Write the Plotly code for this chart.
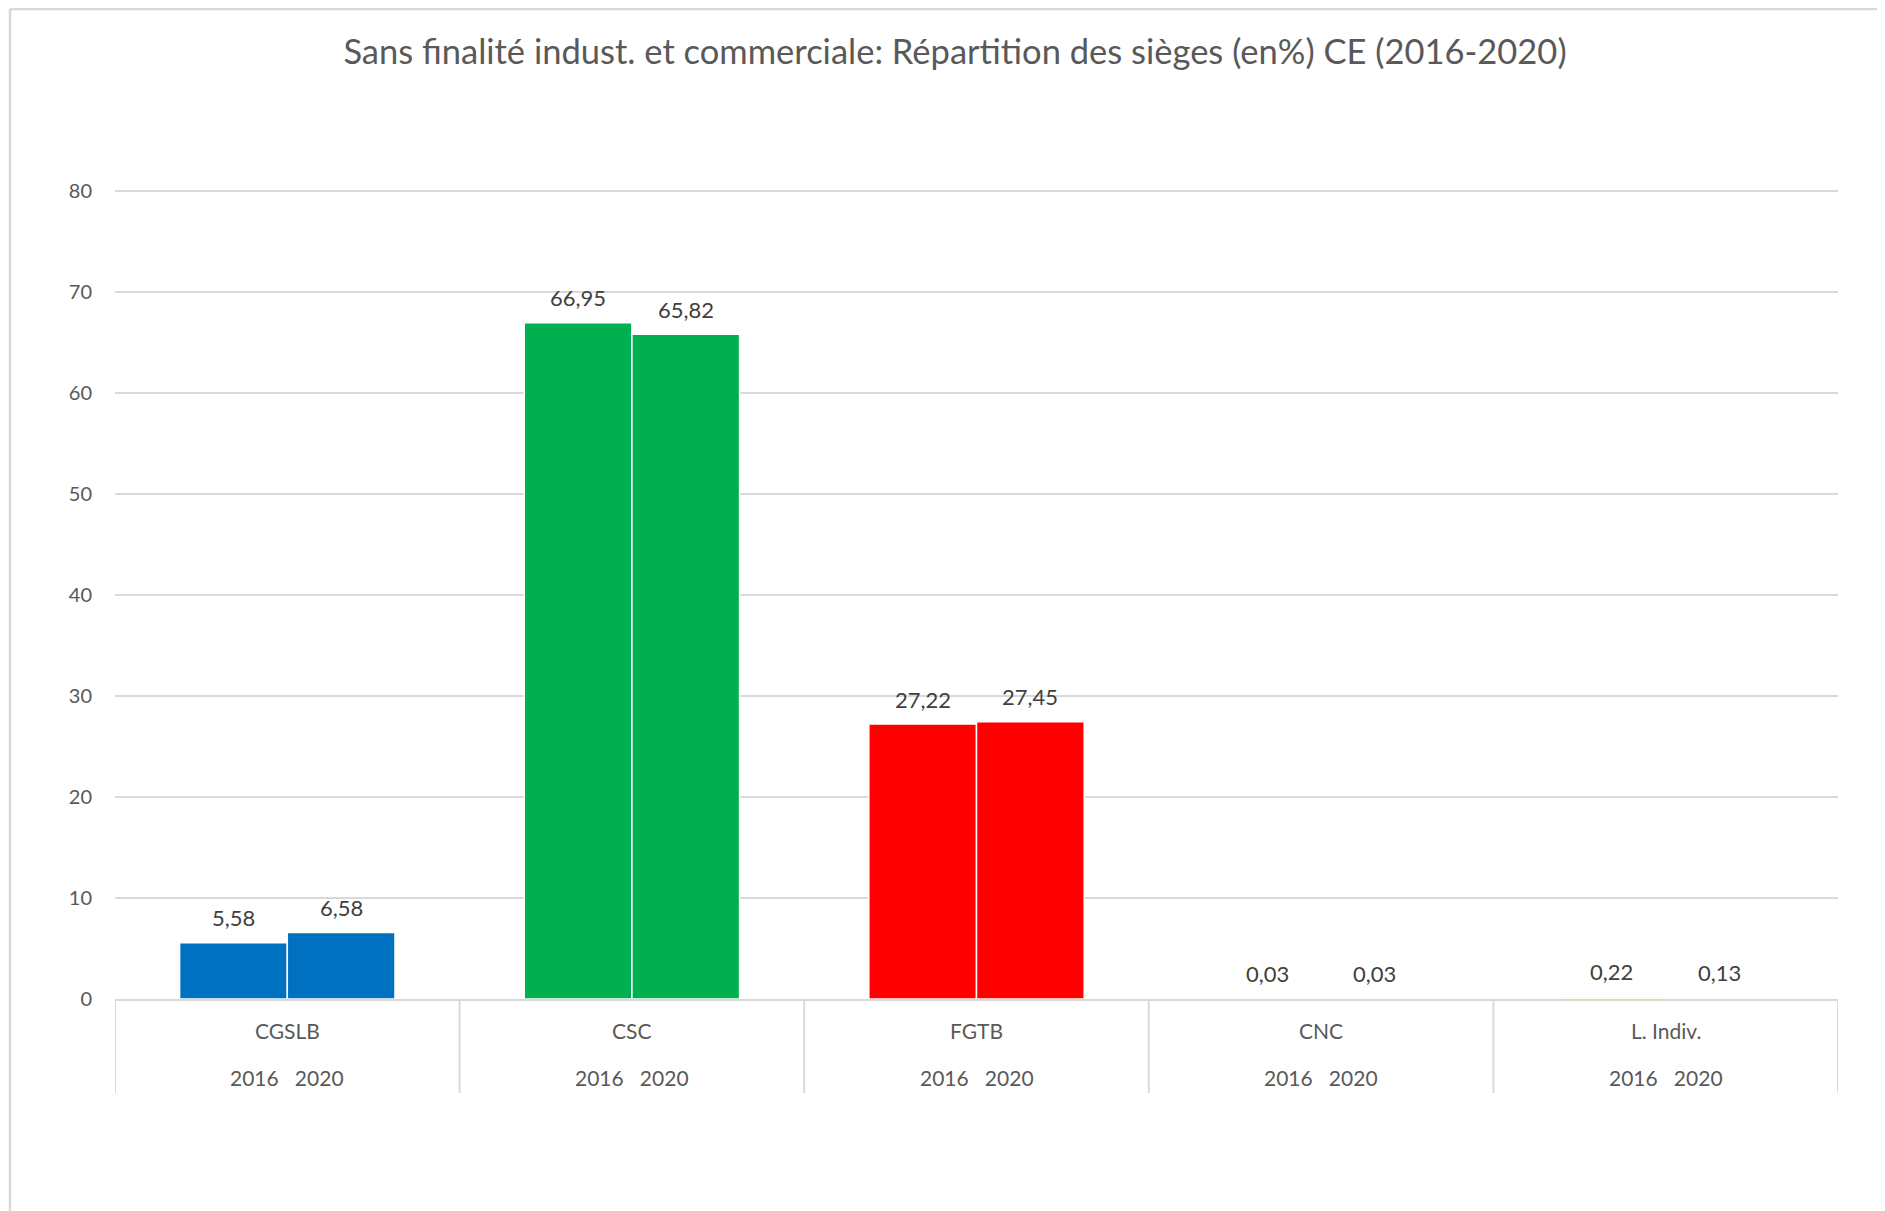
import plotly.graph_objects as go

CATEGORIES = ["CGSLB", "CSC", "FGTB", "CNC", "L. Indiv."]
YEARS = ["2016", "2020"]
VALUES_2016 = [5.58, 66.95, 27.22, 0.03, 0.22]
VALUES_2020 = [6.58, 65.82, 27.45, 0.03, 0.13]
Y_TICKS = [0, 10, 20, 30, 40, 50, 60, 70, 80]
TITLE = "Sans finalité indust. et commerciale: Répartition des sièges (en%) CE (2016-2020)"

COLORS_2016 = ["#0070C0", "#00B050", "#FF0000", "#EDEDED", "#F4F7B0"]
COLORS_2020 = ["#0070C0", "#00B050", "#FF0000", "#EDEDED", "#F2F2F2"]

FONT = "Lato, 'Open Sans', sans-serif"
TXT = "#595959"
LBL = "#404040"
GRID = "#D9D9D9"

# page body adds an 8px margin; target positions are expressed in window px
OFF = 8
W, H = 1885 - OFF, 1211 - OFF
L, R, T, B = 115 - OFF, 1885 - 1838, 190 - OFF, 1211 - 999
plot_h = H - T - B
plot_w = W - L - R


def py(px):
    return (1211 - B - px) / plot_h


def pxx(px):
    return (px - 115) / plot_w


fig = go.Figure()
for name, vals, cols in [(YEARS[0], VALUES_2016, COLORS_2016), (YEARS[1], VALUES_2020, COLORS_2020)]:
    fig.add_trace(go.Bar(
        x=CATEGORIES, y=vals, name=name,
        marker=dict(color=cols, line=dict(color="white", width=1.5)),
        hoverinfo="x+y",
    ))

bar_offset = 0.15625 * plot_w / len(CATEGORIES)
annotations = []
for j, vals in enumerate([VALUES_2016, VALUES_2020]):
    for c, v in zip(CATEGORIES, vals):
        annotations.append(dict(
            x=c, y=v, xref="x", yref="y",
            text=f"{v:.2f}".replace(".", ","),
            showarrow=False, yanchor="middle", yshift=25,
            xshift=(j - 0.5) * 2 * bar_offset,
            font=dict(family=FONT, size=22, color=LBL),
        ))
for c in CATEGORIES:
    annotations.append(dict(x=c, y=py(1030), xref="x", yref="paper", text=c,
                            showarrow=False, yanchor="middle",
                            font=dict(family=FONT, size=21, color=TXT)))
    annotations.append(dict(x=c, y=py(1077), xref="x", yref="paper",
                            text="   ".join(YEARS),
                            showarrow=False, yanchor="middle",
                            font=dict(family=FONT, size=21, color=TXT)))

shapes = []
for k in range(len(CATEGORIES) + 1):
    shapes.append(dict(type="line", xref="x", yref="paper",
                       x0=k - 0.5, x1=k - 0.5, y0=0, y1=py(1093),
                       line=dict(color=GRID, width=2)))
# chart border (left and top)
shapes.append(dict(type="line", xref="paper", yref="paper",
                   x0=pxx(10), x1=pxx(10), y0=py(9), y1=py(1215),
                   line=dict(color=GRID, width=2.5)))
shapes.append(dict(type="line", xref="paper", yref="paper",
                   x0=pxx(10), x1=pxx(1890), y0=py(9), y1=py(9),
                   line=dict(color=GRID, width=2.5)))

fig.update_layout(
    width=W, height=H,
    margin=dict(l=L, r=R, t=T, b=B, autoexpand=False),
    paper_bgcolor="white", plot_bgcolor="white",
    barmode="group", bargap=0.375, bargroupgap=0,
    showlegend=False,
    title=dict(text=TITLE, x=(955 - OFF) / W, xref="container", xanchor="center",
               y=1 - (52 - OFF) / H, yref="container", yanchor="middle",
               font=dict(family=FONT, size=34.5, color=TXT)),
    xaxis=dict(showticklabels=False, showgrid=False, zeroline=False,
               showline=True, linecolor=GRID, linewidth=2, ticks="",
               range=[-0.5, len(CATEGORIES) - 0.5]),
    yaxis=dict(range=[0, 80.1], tickvals=Y_TICKS, showgrid=True, gridcolor=GRID,
               gridwidth=1.5, zeroline=False, showline=False, ticks="",
               ticklabelstandoff=22,
               tickfont=dict(family=FONT, size=20, color=TXT)),
    annotations=annotations, shapes=shapes,
    font=dict(family=FONT, color=TXT),
)

fig.write_html("out.html")
